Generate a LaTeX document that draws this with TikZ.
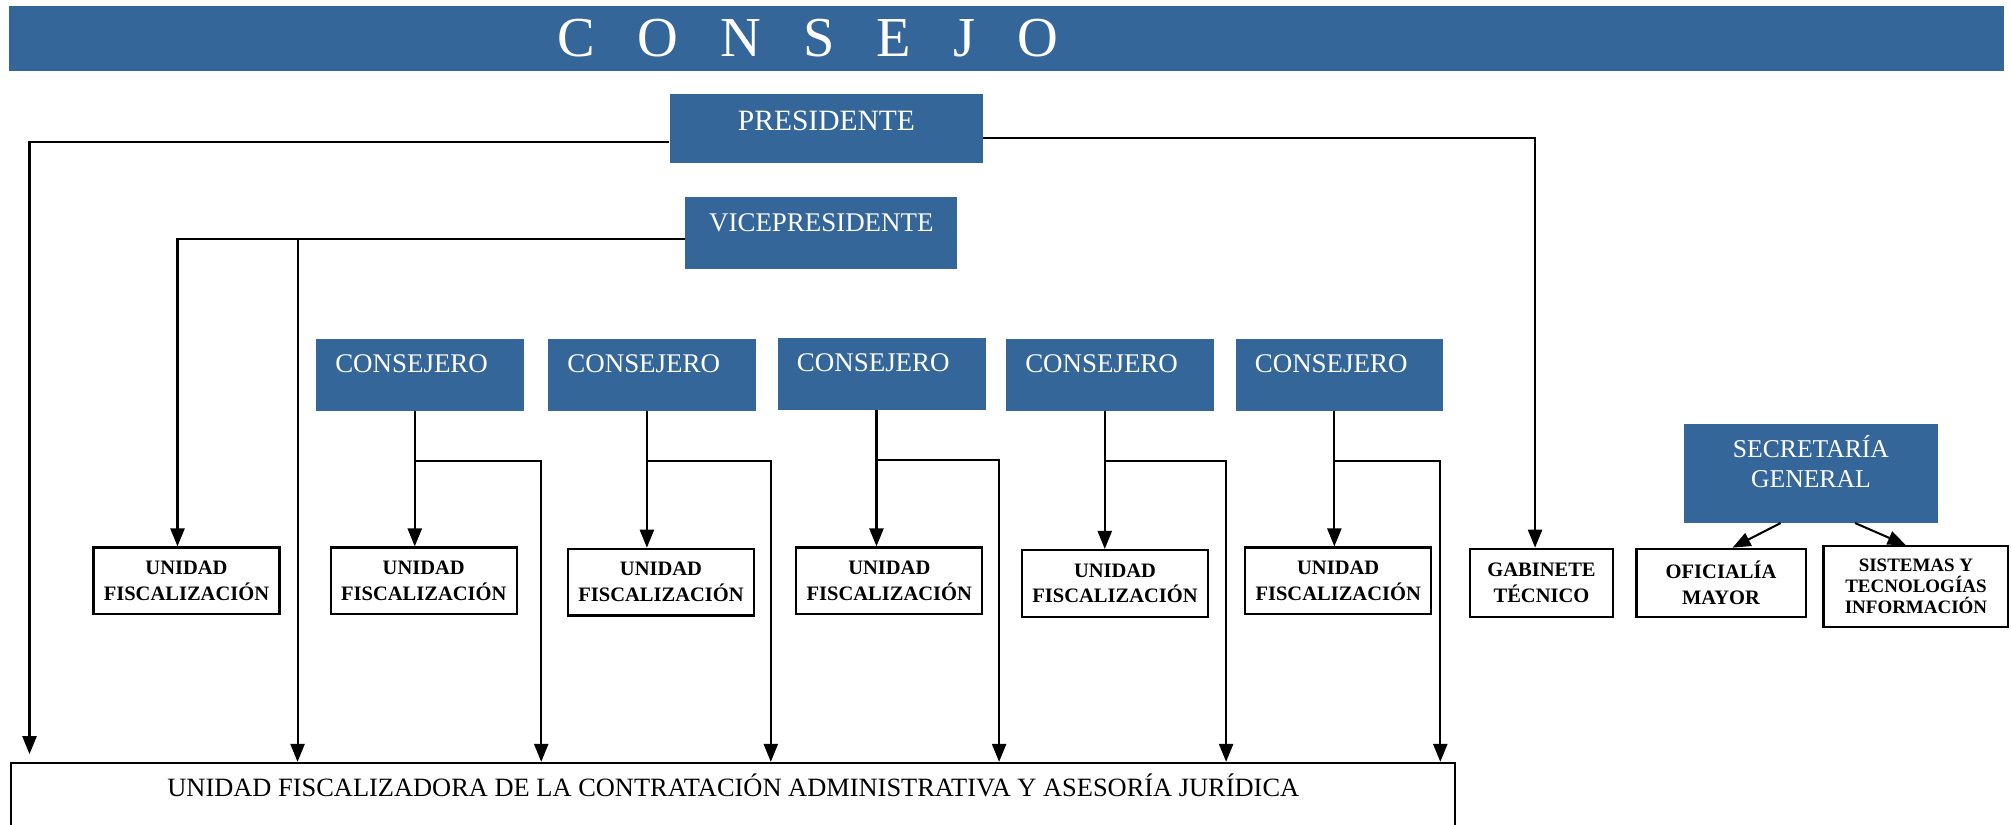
\documentclass[tikz,border=0pt]{standalone}
\usepackage{fontspec}
\setmainfont{Liberation Serif}
\usetikzlibrary{arrows.meta}
\definecolor{consejoblue}{RGB}{52,102,153}

\begin{document}
\begin{tikzpicture}[x=0.5pt, y=-0.5pt,
    bluebox/.style={fill=consejoblue, text=white, inner sep=0pt, anchor=north west},
    unitbox/.style={draw, line width=0.9pt, inner sep=0pt, anchor=north west, align=center,
                    minimum width=72.5pt, minimum height=26pt,
                    font=\bfseries\fontsize{8}{10}\selectfont},
    consejero/.style={bluebox, minimum width=81pt, text width=66pt, inner xsep=7.5pt,
                      align=left, text height=13pt, text depth=15pt,
                      font=\fontsize{10.5}{12}\selectfont},
    link/.style={line width=0.8pt},
    arrow/.style={link, -{Triangle[length=7pt, width=5.5pt]}}]
\clip (0,0) rectangle (1568,643);

\node[bluebox, minimum width=777.5pt, minimum height=25.5pt] (banner) at (7,4) {};
\node[text=white, font=\fontsize{22}{26}\selectfont] (title) at (630,30)
  {\spaceskip=16.4pt C O N S E J O};

\node[bluebox, minimum width=122pt, text height=14pt, text depth=13pt,
      font=\fontsize{11.5}{13}\selectfont] (pres) at (522,73) {PRESIDENTE};
\node[bluebox, minimum width=106pt, text height=13.5pt, text depth=14.5pt,
      font=\fontsize{10.5}{12}\selectfont] (vp) at (534,153) {VICEPRESIDENTE};
\foreach \i/\x/\y in {1/246/264, 2/427/264, 3/606/263, 4/784/264, 5/963/264}
  \node[consejero] (c\i) at (\x,\y) {CONSEJERO};
\node[bluebox, minimum width=99pt, minimum height=38.5pt] (sg) at (1313,330) {};
\node[text=white, align=center, font=\fontsize{10}{11.5}\selectfont] (sgtext)
  at (1412,360) {SECRETARÍA\\GENERAL};

\foreach \i/\x/\y in {0/72/426, 1/257/426, 2/442/427, 3/620/426, 4/796/428, 5/970/426}
  \node[unitbox] (u\i) at (\x,\y) {UNIDAD\\FISCALIZACIÓN};
\node[unitbox, minimum width=56pt, minimum height=26.5pt] (gab) at (1145,427) {GABINETE\\TÉCNICO};
\node[unitbox, minimum width=66pt, minimum height=26.5pt] (of) at (1275,427) {OFICIALÍA\\MAYOR};
\node[unitbox, minimum width=72pt, minimum height=31.5pt,
      font=\bfseries\fontsize{7.4}{8.25}\selectfont] (sis) at (1421,425)
  {SISTEMAS Y\\TECNOLOGÍAS\\INFORMACIÓN};
\node[draw, line width=0.8pt, anchor=north west, inner sep=0pt, minimum width=563pt,
      text height=13pt, text depth=30pt, font=\fontsize{10.3}{12}\selectfont] (uf) at (8,594)
  {UNIDAD FISCALIZADORA DE LA CONTRATACIÓN ADMINISTRATIVA Y ASESORÍA JURÍDICA};

% arrow ends on the top of the bottom box
\foreach \i/\dx in {0/112, 1/207, 2/296.5, 3/385.5, 4/474, 5/557.5}
  \coordinate (j\i) at ([xshift=\dx pt]uf.north west);

\draw[arrow] ([yshift=-5pt]pres.west) -| ([xshift=7.5pt, yshift=3pt]uf.north west);
\draw[arrow] ([yshift=-3.5pt]pres.east) -| ([xshift=-2.5pt]gab.north);

\coordinate (vpl) at ([yshift=-2.5pt]vp.west);
\draw[arrow] (vpl) -| ([xshift=-3.5pt]u0.north);
\draw[arrow] (vpl -| j0) -- (j0);

\foreach \i in {1,...,5} {
  \draw[arrow] ([xshift=-2pt]c\i.south) -- ([xshift=-2pt]c\i.south |- u\i.north);
  \draw[arrow] ([xshift=-2pt, yshift=-19.5pt]c\i.south) -| (j\i);
}

\draw[arrow] ([xshift=-12pt]sg.south) -- ([xshift=4.5pt]of.north);
\draw[arrow] ([xshift=17pt]sg.south) -- ([xshift=-4pt]sis.north);
\end{tikzpicture}
\end{document}
